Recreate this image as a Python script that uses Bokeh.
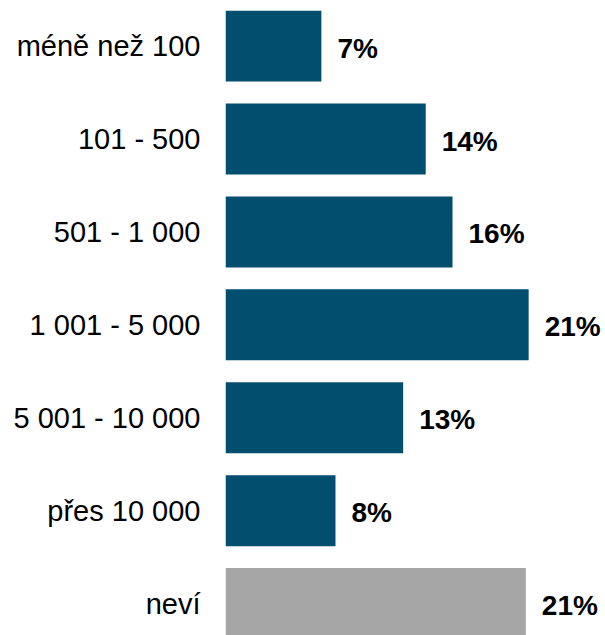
from bokeh.plotting import figure
from bokeh.models import ColumnDataSource, FixedTicker, Range1d
from bokeh.core.properties import value
from bokeh.embed import file_html
from bokeh.resources import INLINE

categories = ["méně než 100", "101 - 500", "501 - 1 000", "1 001 - 5 000",
              "5 001 - 10 000", "přes 10 000", "neví"]
values = [6.8, 14.2, 16.1, 21.5, 12.6, 7.8, 21.3]
labels = ["7%", "14%", "16%", "21%", "13%", "8%", "21%"]
colors = ["#024E6E", "#024E6E", "#024E6E", "#024E6E", "#024E6E", "#024E6E", "#A6A6A6"]

n = len(categories)
pos = [n - 1 - i for i in range(n)]

src = ColumnDataSource(dict(cat=categories, val=values, lab=labels, col=colors, y=pos))

p = figure(width=605, height=635, output_backend="svg", toolbar_location=None,
           x_range=Range1d(0, 26.95), y_range=Range1d(-0.344, 6.491),
           min_border_left=225, min_border_right=0, min_border_top=0, min_border_bottom=0)

p.hbar(y="y", left=0, right="val", height=0.764, color="col", line_color=None, source=src)
p.text(x="val", y="y", text="lab", source=src, x_offset=16, y_offset=2,
       text_font=value("Liberation Sans"), text_font_style="bold",
       text_font_size="28px", text_baseline="middle", text_align="left", text_color="black")

p.xaxis.visible = False
ya = p.yaxis[0]
ya.ticker = FixedTicker(ticks=pos)
ya.major_label_overrides = {pv: c for pv, c in zip(pos, categories)}
ya.major_label_text_font = "Liberation Sans"
ya.major_label_text_font_size = "29px"
ya.major_label_text_color = "black"
ya.major_label_standoff = 25
ya.major_tick_out = 0
ya.major_tick_in = 0
ya.minor_tick_out = 0
ya.minor_tick_in = 0
ya.axis_line_color = None
ya.major_tick_line_color = None
ya.minor_tick_line_color = None

p.xgrid.visible = False
p.ygrid.visible = False
p.outline_line_color = None
p.background_fill_color = "white"
p.border_fill_color = "white"

open("out.html", "w").write(file_html(p, INLINE))
